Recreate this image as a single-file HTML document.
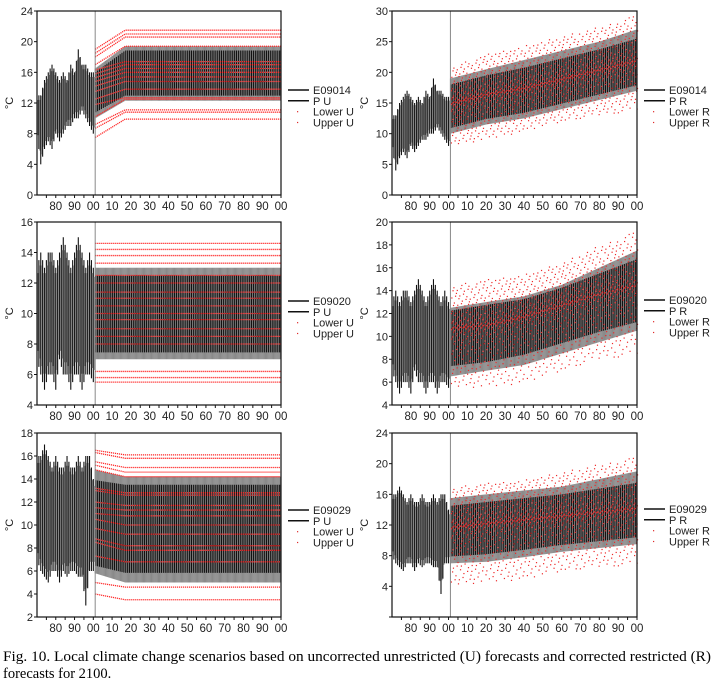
<!DOCTYPE html>
<html><head><meta charset="utf-8"><style>
html,body{margin:0;padding:0;background:#fff;}
svg{display:block;font-family:"Liberation Sans",sans-serif;}
</style></head><body>
<svg id="fig" width="717" height="683" viewBox="0 0 717 683">
<text x="3" y="661" font-family="Liberation Serif,serif" font-size="14.5" textLength="708" lengthAdjust="spacingAndGlyphs">Fig. 10. Local climate change scenarios based on uncorrected unrestricted (U) forecasts and corrected restricted (R)</text>
<text x="3" y="678" font-family="Liberation Serif,serif" font-size="14.5">forecasts for 2100.</text>
</svg>
<script>
// ---- data ----
const histYears=[1970,1972,1974,1976,1978,1980,1982,1984,1986,1988,1990,1992,1994,1996,1998,2000];
const xTickLabels=["80","90","00","10","20","30","40","50","60","70","80","90","00"];
const xTickYears=[1980,1990,2000,2010,2020,2030,2040,2050,2060,2070,2080,2090,2100];
// panel 1 (E09014, U)
const p1HistLow=[8,4,6,7,6,8,7,8,9,9,10,10,11,10,9,8];
const p1HistHigh=[13,13,15,16,17,16,15,16,15,17,16,19,17,17,16,16];
const uYears=[2001,2017,2100];
const p1BandLow=[10,12.3,12.3], p1BandHigh=[16.5,19.4,19.4];
const p1CoreLow=[12.5,14.5,14.5], p1CoreHigh=[15.5,18.3,18.3];
const p1RedStart=[7.5,8.7,9.2,10.2,11.8,12.5,13.5,14.2,14.8,15.3,15.8,16.3,17,18,18.5,19];
const p1RedEnd=[9.9,10.8,11.1,12.5,12.7,13.8,14.8,15.4,16,16.5,17,17.4,19.4,20.6,21,21.5];
// panel 2 (E09014, R)
const rYears=[2001,2020,2040,2060,2080,2100];
const p2HistLow=[8,4,6,7,6,8,7,8,9,9,10,10,11,10,9,8];
const p2HistHigh=[13,13,15,16,17,16,15,16,15,17,16,19,17,17,16,16];
const p2BandLow=[10,11.5,12.5,14,15.5,17], p2BandHigh=[19,20.5,22,23.5,25,27];
const p2CoreLow=[13,14.5,15.5,17,18.5,20], p2CoreHigh=[17,18.5,19.5,21,22.5,24];
const p2DotLow=[8,9,10.5,12,13,14], p2DotHigh=[21,23,24.5,26,27.5,29.5];
// panel 3 (E09020, U)
const p3HistLow=[7,6,5,6,6,5,7,6,6,5,6,6,5,6,6,5.5];
const p3HistHigh=[13,14,13,14,14,13,14,15,14,13,14,15,14,13,14,13];
const p3BandLow=[7,7,7], p3BandHigh=[13,13,13];
const p3CoreLow=[8.5,8.5,8.5], p3CoreHigh=[12,12,12];
const p3RedStart=[5.5,5.8,6.2,8,8.5,9,9.6,10,10.5,11,11.4,12,12.5,13.3,13.8,14.2,14.6];
const p3RedEnd=[5.5,5.8,6.2,8,8.5,9,9.6,10,10.5,11,11.4,12,12.5,13.3,13.8,14.2,14.6];
// panel 4 (E09020, R)
const p4HistLow=[7,6,5,6,6,5,7,6,6,5,6,6,5,6,6,5.5];
const p4HistHigh=[13,14,13,14,14,13,14,15,14,13,14,15,14,13,14,13];
const p4BandLow=[6.5,7,7.5,8.5,9.5,10.5], p4BandHigh=[12.5,13,13.5,14.5,16,17.5];
const p4CoreLow=[9.5,9.5,10.5,11.5,12.5,13], p4CoreHigh=[12,12.5,13,14,15,16];
const p4DotLow=[5.5,5.5,6,7,8,8.5], p4DotHigh=[14.5,15,15.5,16.5,18,19.3];
// panel 5 (E09029, U)
const p5HistLow=[7,6,5.5,5,6,6,5,6,5.5,6,6,5.5,5.5,3,6,6];
const p5HistHigh=[16,16,17,16,15,16,15,15,16,15,15,16,15,16,16,14];
const p5BandLow=[5.8,5,5], p5BandHigh=[14.8,14.2,14.2];
const p5CoreLow=[8,7.8,7.8], p5CoreHigh=[13,12.8,12.8];
const p5RedStart=[4,5,7.3,8.5,8.8,9.7,10.5,11,11.5,12,13,13.2,14.8,15.2,15.5,16.3,16.5];
const p5RedEnd=[3.5,4.6,6.8,7.8,8.2,9.2,10,10.8,11.3,11.7,12.6,12.8,14.2,14.6,15,15.8,16.1];
// panel 6 (E09029, R)
const p6HistLow=[8,7,6.5,6,7,7,6,7,6.5,7,7,6.5,6.5,3,7,7];
const p6HistHigh=[16,16,17,16,15,16,15,15,16,15,15,16,15,16,16,14];
const p6BandLow=[7,7.2,7.8,8.5,9,9.5], p6BandHigh=[15.5,16,16.5,17,18,19];
const p6CoreLow=[10,10.5,11,11.5,12,12.5], p6CoreHigh=[13.5,14,14.5,15,15.5,16];
const p6DotLow=[4,4.5,5,6,6.5,7], p6DotHigh=[17,17.5,18,19,20,21];
const legendNames=[["E09014","P U","Lower U","Upper U"],["E09014","P R","Lower R","Upper R"],
 ["E09020","P U","Lower U","Upper U"],["E09020","P R","Lower R","Upper R"],
 ["E09029","P U","Lower U","Upper U"],["E09029","P R","Lower R","Upper R"]];
// ---- rendering ----
const NS="http://www.w3.org/2000/svg";
const svg=document.getElementById('fig');
function mk(tag,attrs,parent){const e=document.createElementNS(NS,tag);for(const k in attrs)e.setAttribute(k,attrs[k]);(parent||svg).appendChild(e);return e;}
function interp(xs,ys,x){if(x<=xs[0])return ys[0];for(let i=1;i<xs.length;i++){if(x<=xs[i]){const t=(x-xs[i-1])/(xs[i]-xs[i-1]);return ys[i-1]+t*(ys[i]-ys[i-1]);}}return ys[ys.length-1];}
function frac(v){return v-Math.floor(v);}
function panel(c){
 const g=mk('g',{});
 
 
 const X=yr=>c.x0+(yr-1970)/130*(c.x1-c.x0);
 const Y=v=>c.y1-(v-c.ymin)/(c.ymax-c.ymin)*(c.y1-c.y0);
 for(let yr=1970.5;yr<2001;yr+=0.5){
  const lo=interp(histYears,c.hl,yr),hi=interp(histYears,c.hh,yr);
  const k=Math.round(yr*2)%2;
  const l=mk('line',{x1:X(yr),x2:X(yr),y1:Y(hi-(k?0.6:0)),y2:Y(lo+(k?0.8:0)),stroke:k?'#888':'#111','stroke-width':1.1},g);
  
  
 }
 const fy=c.fy;
 for(let yr=2001;yr<=2100;yr+=0.5){
  const bl=interp(fy,c.bl,yr),bh=interp(fy,c.bh,yr);
  const l=mk('line',{x1:X(yr),x2:X(yr),y1:Y(bh),y2:Y(bl),stroke:'#8a8a8a','stroke-width':1},g);
  
  
 }
 for(let yr=2001.3;yr<=2100;yr+=1){
  const cl=interp(fy,c.cl,yr),ch=interp(fy,c.ch,yr),bl=interp(fy,c.bl,yr),bh=interp(fy,c.bh,yr);
  const l=mk('line',{x1:X(yr),x2:X(yr),y1:Y(ch+(bh-ch)*0.5),y2:Y(cl-(cl-bl)*0.7),stroke:'#111','stroke-width':1.1},g);
  
  
 }
 if(c.rs){
  for(let i=0;i<c.rs.length;i++){
   const p=mk('polyline',{points:`${X(2001)},${Y(c.rs[i])} ${X(2017)},${Y(c.re[i])} ${X(2100)},${Y(c.re[i])}`,fill:'none',stroke:'#ff2a2a','stroke-width':1.3,'stroke-dasharray':'1.2 0.8'},g);
   
   
  }
 } else {
  const N=1300;
  for(let n=1;n<=N;n++){
   const a=frac(n*0.7548776662+0.3), b=frac(n*0.5698402910+0.7);
   const yr=2001+a*99;
   const dl=interp(fy,c.dl,yr),dh=interp(fy,c.dh,yr),mid=(interp(fy,c.cl,yr)+interp(fy,c.ch,yr))/2;
   const u=b*2-1;
   const v=mid+Math.sign(u)*Math.pow(Math.abs(u),1.6)*(u>0?dh-mid:mid-dl);
   const d=mk('rect',{x:X(yr),y:Y(v),width:1.2,height:1.2,fill:'#ee2a2a'},g);
   
   
  }
 }
 const vm=mk('line',{x1:X(2001),x2:X(2001),y1:c.y0,y2:c.y1,stroke:'#888','stroke-width':1},g);
 
 
 const fr=mk('rect',{x:c.x0,y:c.y0,width:c.x1-c.x0,height:c.y1-c.y0,fill:'none',stroke:'#111','stroke-width':1.2},g);
 
 
 for(let v=c.ymin;v<=c.ymax;v+=c.step){
  const t=mk('line',{x1:c.x0-3,x2:c.x0,y1:Y(v),y2:Y(v),stroke:'#111'},g);
  
  
  if(c.hideMin&&v===c.ymin)continue;
  const tx=mk('text',{x:c.x0-4,y:Y(v)+4,'font-size':11,'text-anchor':'end',fill:'#222'},g);
  tx.textContent=String(v);
  
  
 }
 for(let yr=1975;yr<=2100;yr+=5){
  const t=mk('line',{x1:X(yr),x2:X(yr),y1:c.y1,y2:c.y1+3,stroke:'#111'},g);
  
  
 }
 xTickYears.forEach((yr,i)=>{
  const tx=mk('text',{x:X(yr),y:c.y1+15,'font-size':11.5,'text-anchor':'middle',fill:'#222'},g);
  tx.textContent=xTickLabels[i];
  
  
 });
 const yl=mk('text',{x:0,y:0,'font-size':11,'text-anchor':'middle',fill:'#222',transform:`translate(${c.x0-24},${(c.y0+c.y1)/2}) rotate(-90)`},g);
 yl.textContent='°C';
 
 
 const lx=c.x1+7,ly=c.ly;
 c.leg.forEach((s,i)=>{
  const y=ly+i*10.8;
  if(i<2){const l=mk('line',{x1:lx,x2:lx+21,y1:y,y2:y,stroke:'#111','stroke-width':1.5},g);
   
   }
  else {const d=mk('rect',{x:lx+9,y:y-0.5,width:1.2,height:1.2,fill:'#e02a2a'},g);
   
   }
  const tx=mk('text',{x:lx+25,y:y+4,'font-size':11,fill:'#222'},g);
  tx.textContent=s;
  
  
 });
}
panel({name:'panel-e09014-u',x0:37,x1:281,y0:11,y1:195,ymin:0,ymax:24,step:4,hl:p1HistLow,hh:p1HistHigh,fy:uYears,bl:p1BandLow,bh:p1BandHigh,cl:p1CoreLow,ch:p1CoreHigh,rs:p1RedStart,re:p1RedEnd,leg:legendNames[0],ly:90});
panel({name:'panel-e09014-r',x0:392,x1:637,y0:11,y1:195,ymin:0,ymax:30,step:5,hl:p2HistLow,hh:p2HistHigh,fy:rYears,bl:p2BandLow,bh:p2BandHigh,cl:p2CoreLow,ch:p2CoreHigh,dl:p2DotLow,dh:p2DotHigh,leg:legendNames[1],ly:90});
panel({name:'panel-e09020-u',x0:37,x1:281,y0:222,y1:405,ymin:4,ymax:16,step:2,hl:p3HistLow,hh:p3HistHigh,fy:uYears,bl:p3BandLow,bh:p3BandHigh,cl:p3CoreLow,ch:p3CoreHigh,rs:p3RedStart,re:p3RedEnd,leg:legendNames[2],ly:301});
panel({name:'panel-e09020-r',x0:392,x1:637,y0:222,y1:405,ymin:4,ymax:20,step:2,hl:p4HistLow,hh:p4HistHigh,fy:rYears,bl:p4BandLow,bh:p4BandHigh,cl:p4CoreLow,ch:p4CoreHigh,dl:p4DotLow,dh:p4DotHigh,leg:legendNames[3],ly:300});
panel({name:'panel-e09029-u',x0:37,x1:281,y0:433,y1:617,ymin:2,ymax:18,step:2,hl:p5HistLow,hh:p5HistHigh,fy:uYears,bl:p5BandLow,bh:p5BandHigh,cl:p5CoreLow,ch:p5CoreHigh,rs:p5RedStart,re:p5RedEnd,leg:legendNames[4],ly:510});
panel({name:'panel-e09029-r',x0:392,x1:637,y0:433,y1:617,ymin:0,ymax:24,step:4,hideMin:true,hl:p6HistLow,hh:p6HistHigh,fy:rYears,bl:p6BandLow,bh:p6BandHigh,cl:p6CoreLow,ch:p6CoreHigh,dl:p6DotLow,dh:p6DotHigh,leg:legendNames[5],ly:509});
</script>
</body></html>
